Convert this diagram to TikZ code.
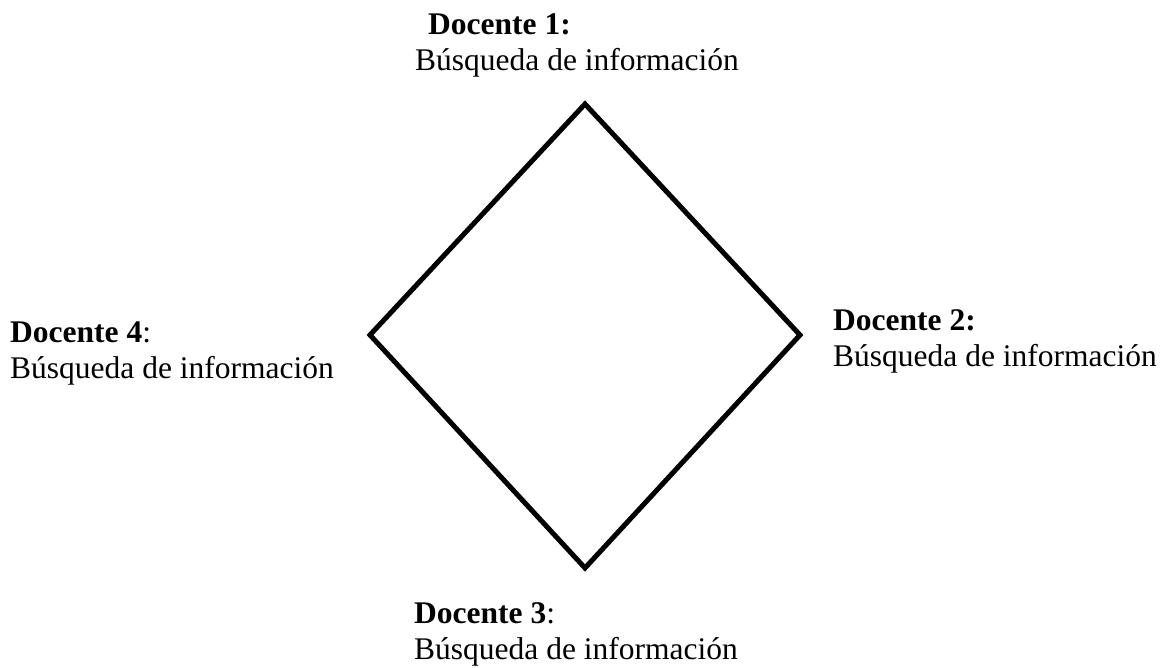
\documentclass[tikz,border=0pt]{standalone}
\usepackage{fontspec}
\setmainfont{Liberation Serif}
\usetikzlibrary{positioning}

\tikzset{
    docente/.style={anchor=north west, inner sep=0pt, align=left,
        font=\fontsize{31.5}{36}\selectfont},
    rombo/.style={draw, line width=5pt, line join=miter}
}

\begin{document}
\begin{tikzpicture}[x=1pt, y=-1pt]
    \useasboundingbox (0,0) rectangle (1163,668);

    % Diamond corners
    \coordinate (top) at (585,104);
    \coordinate (right) at (800,335);
    \coordinate (bottom) at (585,568);
    \coordinate (left) at (370,335);
    \draw[rombo] (top) -- (right) -- (bottom) -- (left) -- cycle;

    % Labels
    \node[docente] (d1) at (415,14) {\hspace*{13pt}\textbf{Docente 1:}\\B\'usqueda de informaci\'on};
    \node[docente] (d2) at (833,309) {\textbf{Docente 2:}\\B\'usqueda de informaci\'on};
    \node[docente] (d3) at (414,602) {\textbf{Docente 3}:\\B\'usqueda de informaci\'on};
    \node[docente] (d4) at (10,322) {\textbf{Docente 4}:\\B\'usqueda de informaci\'on};
\end{tikzpicture}
\end{document}
